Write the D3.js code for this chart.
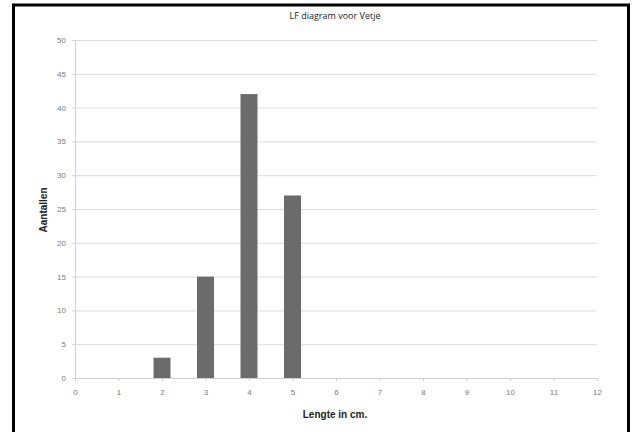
<!DOCTYPE html>
<html>
<head>
<meta charset="utf-8">
<script src="https://cdn.jsdelivr.net/npm/d3@7"></script>
<style>
  body { margin: 0; background: #fff; }
  svg { display: block; }
</style>
</head>
<body>
<div id="chart"></div>
<script>
// data
const lengths = [2, 3, 4, 5];
const counts = [3, 15, 42, 27];
const xTicks = [0, 1, 2, 3, 4, 5, 6, 7, 8, 9, 10, 11, 12];
const yTicks = [0, 5, 10, 15, 20, 25, 30, 35, 40, 45, 50];

const W = 636, H = 432;
const margin = { top: 40, right: 39, bottom: 54, left: 75 };
const width = W - margin.left - margin.right;
const height = H - margin.top - margin.bottom;

const svg = d3.select("#chart").append("svg")
    .attr("width", W)
    .attr("height", H);

// frame
svg.append("path")
    .attr("d", `M13.5,${H} V5 H628.5 V${H}`)
    .attr("fill", "none")
    .attr("stroke", "#000")
    .attr("stroke-width", 3);

const g = svg.append("g")
    .attr("transform", `translate(${margin.left},${margin.top})`);

const x = d3.scaleLinear().domain([0, 12]).range([0, width]);
const y = d3.scaleLinear().domain([0, 50]).range([height, 0]);

// grid lines
g.selectAll(".grid")
    .data(yTicks.filter(d => d > 0))
    .enter()
    .append("line")
    .attr("class", "grid")
    .attr("x1", 0)
    .attr("x2", width)
    .attr("y1", d => y(d) + 0.5)
    .attr("y2", d => y(d) + 0.5)
    .attr("stroke", "#dcdcdc");

// bars
const data = lengths.map((l, i) => ({ key: l, value: counts[i] }));
const barW = 17;
g.selectAll(".bar")
    .data(data)
    .enter()
    .append("rect")
    .attr("class", "bar")
    .attr("x", d => x(d.key) - barW / 2)
    .attr("y", d => y(d.value))
    .attr("width", barW)
    .attr("height", d => height - y(d.value))
    .attr("fill", "#6b6b6b");

// axes
const yAxis = g.append("g")
    .call(d3.axisLeft(y).tickValues(yTicks).tickSize(3).tickPadding(6));
const xAxis = g.append("g")
    .attr("transform", `translate(0,${height})`)
    .call(d3.axisBottom(x).tickValues(xTicks).tickSize(3).tickPadding(8));

[xAxis, yAxis].forEach(ax => {
    ax.select(".domain").attr("stroke", "#cfcfcf");
    ax.selectAll(".tick line").attr("stroke", "#cfcfcf");
    ax.selectAll("text")
        .attr("fill", "#7a7a7a")
        .style("font-family", "'Liberation Sans', Arial, sans-serif")
        .style("font-size", "8px");
});

// title and axis labels
svg.append("text")
    .attr("x", 335)
    .attr("y", 19)
    .attr("text-anchor", "middle")
    .style("font-family", "'Open Sans', 'DejaVu Sans', sans-serif")
    .style("font-size", "9px")
    .attr("fill", "#222")
    .text("LF diagram voor Vetje");

svg.append("text")
    .attr("x", 335)
    .attr("y", 418)
    .attr("text-anchor", "middle")
    .style("font-family", "'Liberation Sans', Arial, sans-serif")
    .style("font-size", "10px")
    .style("font-weight", "bold")
    .attr("fill", "#222")
    .text("Lengte in cm.");

svg.append("text")
    .attr("transform", "translate(47,210) rotate(-90)")
    .attr("text-anchor", "middle")
    .style("font-family", "'Liberation Sans', Arial, sans-serif")
    .style("font-size", "10px")
    .style("font-weight", "bold")
    .attr("fill", "#222")
    .text("Aantallen");
</script>
</body>
</html>
